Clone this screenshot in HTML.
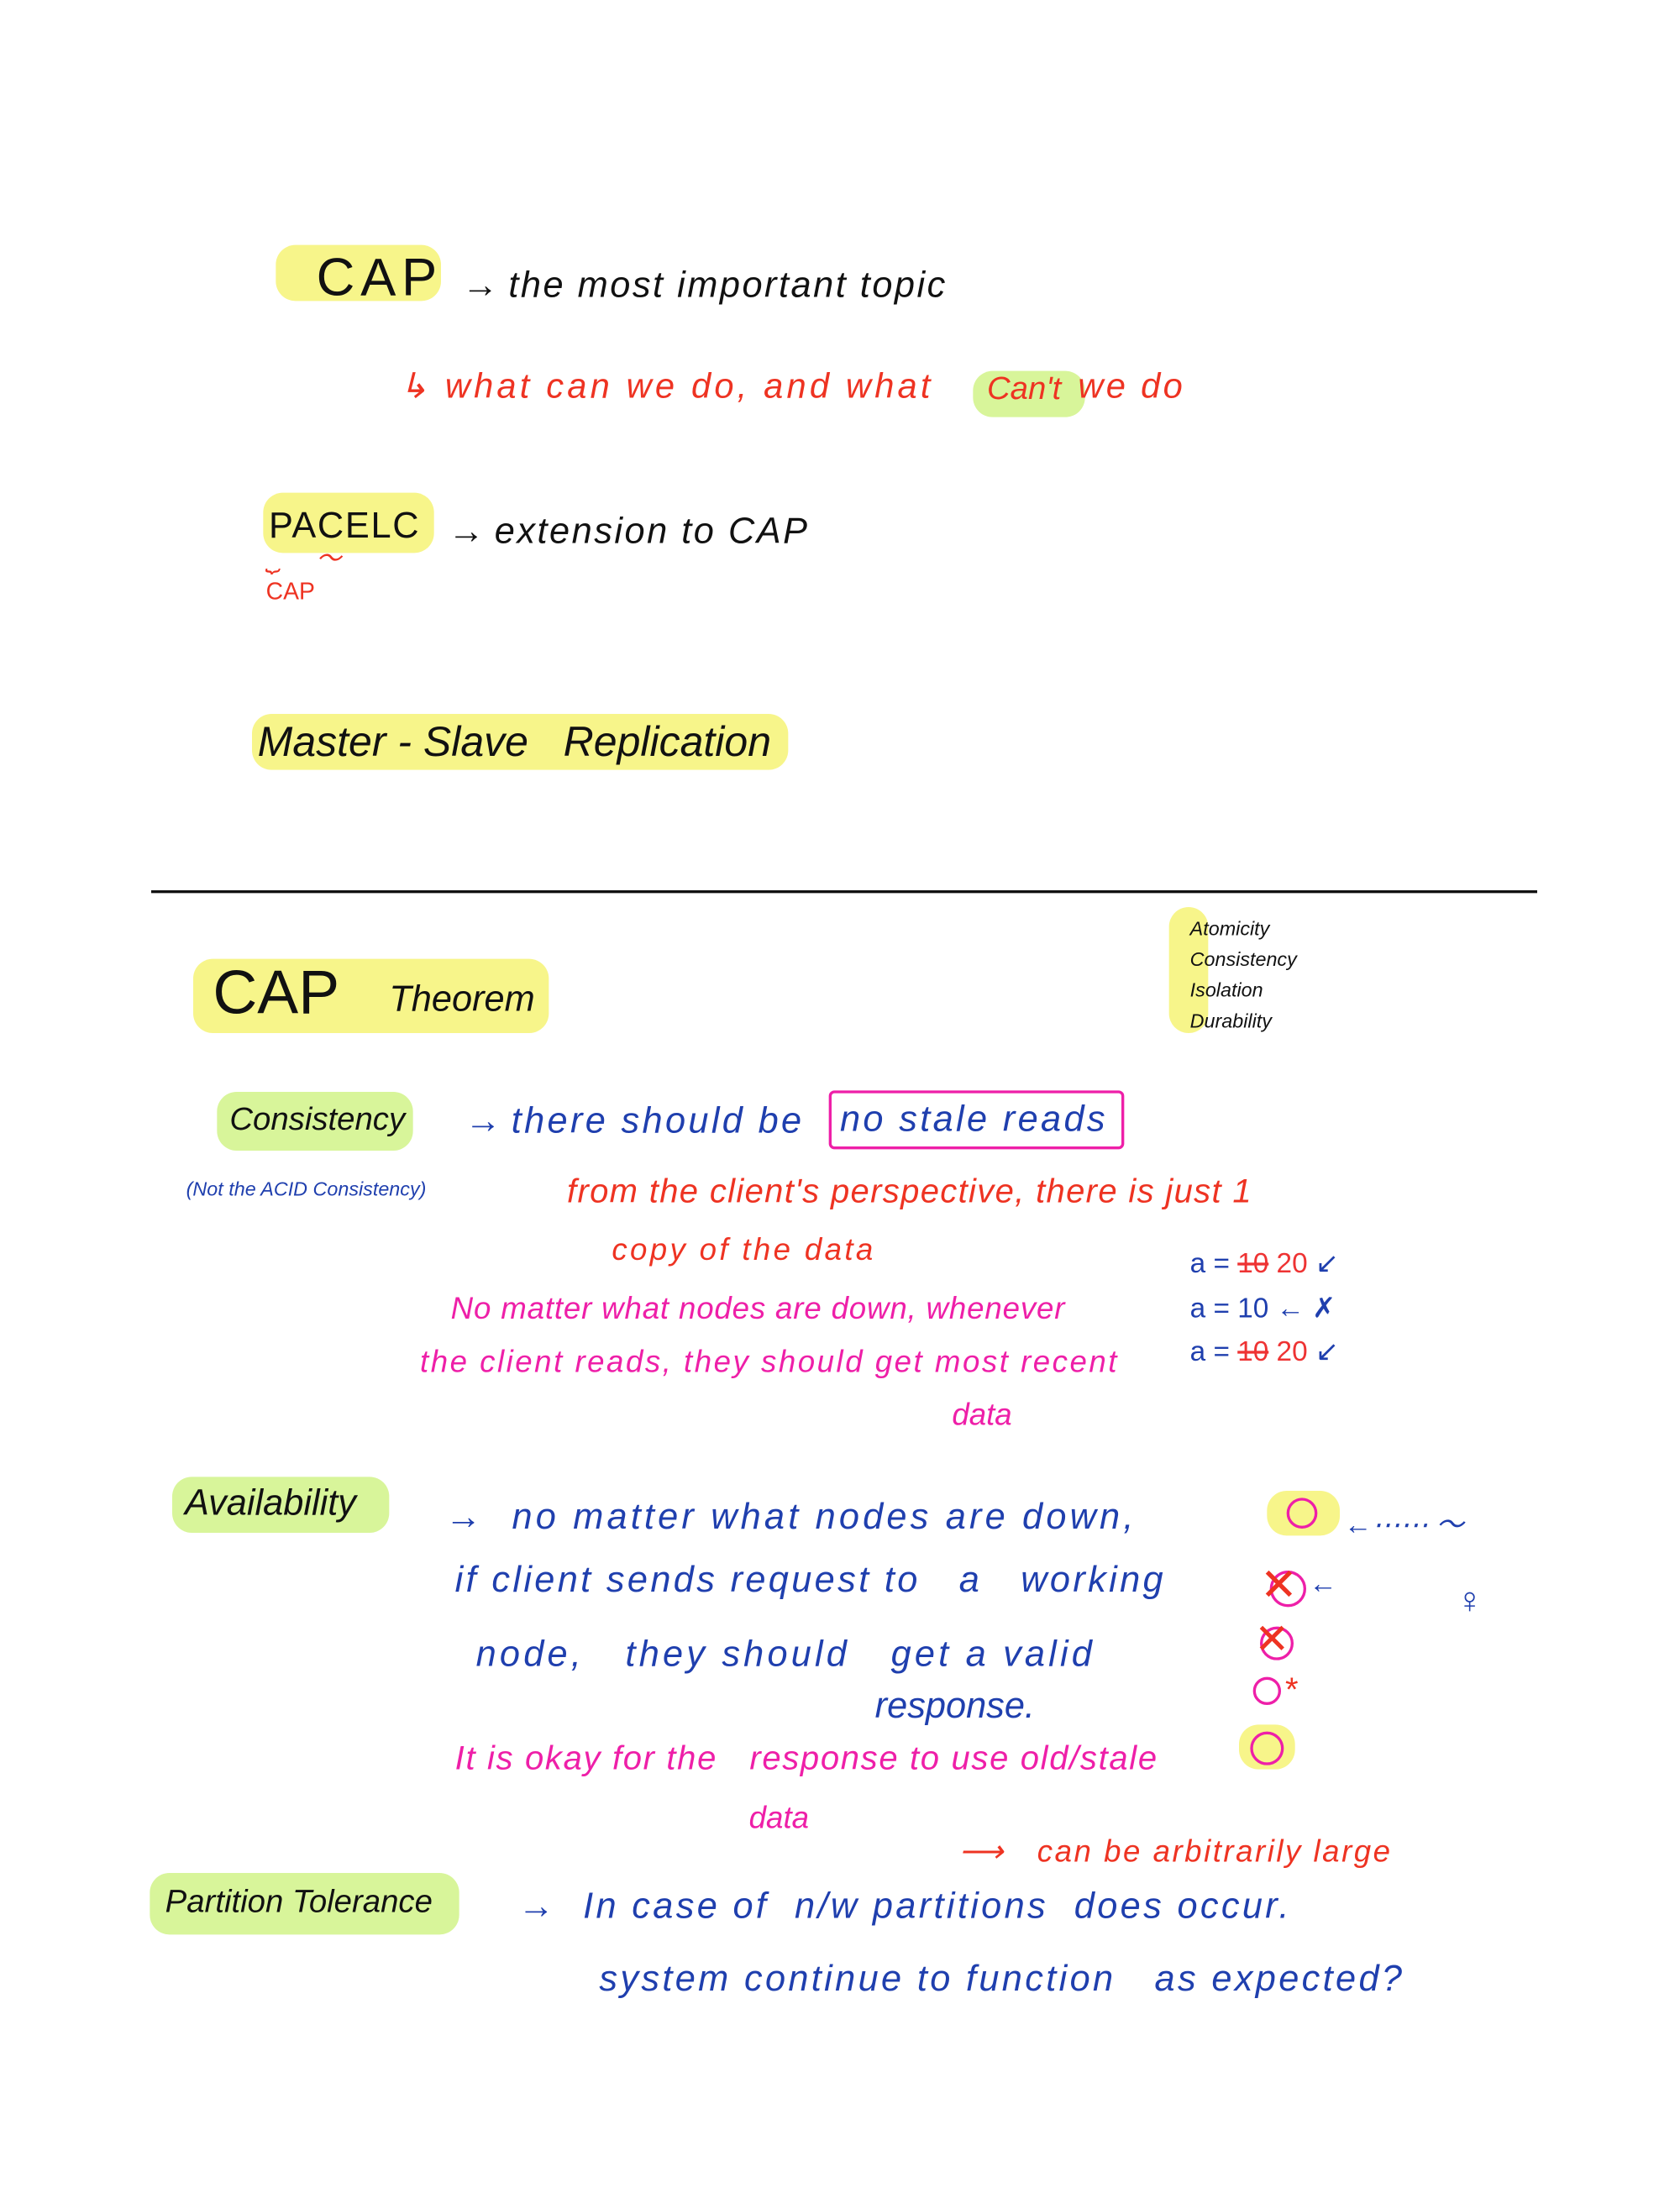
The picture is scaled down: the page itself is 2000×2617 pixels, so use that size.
<!DOCTYPE html>
<html><head><meta charset="utf-8">
<style>
html,body{margin:0;padding:0;background:#fff;}
body{width:2000px;height:2616px;overflow:hidden;position:relative;}
#w{position:absolute;left:0;top:0;width:1200px;height:1570px;transform:scale(1.66667);transform-origin:0 0;font-family:"Liberation Sans",sans-serif;font-style:italic;}
.t{position:absolute;white-space:nowrap;line-height:1;}
.hl{position:absolute;border-radius:14px;}
.y{background:#f7f58a;}
.g{background:#d8f59a;}
.k{color:#111;}
.r{color:#ee3322;}
.b{color:#1f3fae;}
.m{color:#ee1fa8;}
.c{position:absolute;border:2.5px solid #ee1fa8;border-radius:50%;}
</style></head><body><div id="w">

<div class="hl y" style="left:197px;top:175px;width:118px;height:40px"></div>
<div class="t k" style="left:226px;top:180px;font-size:38px;font-style:normal;letter-spacing:4px">CAP</div>
<div class="t k" style="left:330px;top:190px;font-size:26px">→ <span style="letter-spacing:1.5px">the most important topic</span></div>

<div class="hl g" style="left:695px;top:265px;width:80px;height:33px"></div>
<div class="t r" style="left:285px;top:264px;font-size:25px;letter-spacing:2.5px">↳ what can we do, and what</div>
<div class="t r" style="left:705px;top:266px;font-size:23px">Can't</div>
<div class="t r" style="left:770px;top:264px;font-size:25px;letter-spacing:2px">we do</div>

<div class="hl y" style="left:188px;top:352px;width:122px;height:43px"></div>
<div class="t k" style="left:192px;top:362px;font-size:26px;font-style:normal;letter-spacing:1px">PACELC</div>
<div class="t k" style="left:320px;top:366px;font-size:26px">→ <span style="letter-spacing:1.5px">extension to CAP</span></div>
<div class="t r" style="left:190px;top:390px;font-size:18px">⏟&nbsp;&nbsp;&nbsp;&nbsp;&nbsp;～</div>
<div class="t r" style="left:190px;top:414px;font-size:17px;font-style:normal">CAP</div>

<div class="hl y" style="left:180px;top:510px;width:383px;height:40px"></div>
<div class="t k" style="left:184px;top:516px;font-size:30px">Master - Slave&nbsp;&nbsp; Replication</div>

<div style="position:absolute;left:108px;top:636px;width:990px;height:2px;background:#111"></div>

<div class="hl y" style="left:138px;top:685px;width:254px;height:53px"></div>
<div class="t k" style="left:152px;top:688px;font-size:44px;font-style:normal">CAP</div>
<div class="t k" style="left:278px;top:700px;font-size:26px">Theorem</div>

<div class="hl y" style="left:835px;top:648px;width:28px;height:90px"></div>
<div class="t k" style="left:850px;top:652px;font-size:14px;line-height:22px">Atomicity<br>Consistency<br>Isolation<br>Durability</div>

<div class="hl g" style="left:155px;top:780px;width:140px;height:42px"></div>
<div class="t k" style="left:164px;top:788px;font-size:23px">Consistency</div>
<div class="t b" style="left:133px;top:842px;font-size:14px">(Not the ACID Consistency)</div>
<div class="t b" style="left:332px;top:787px;font-size:26px">→ <span style="letter-spacing:2px">there should be</span></div>
<div style="position:absolute;left:592px;top:779px;width:207px;height:38px;border:2px solid #ee1fa8;border-radius:4px"></div>
<div class="t b" style="left:600px;top:786px;font-size:26px;letter-spacing:2px">no stale reads</div>

<div class="t r" style="left:405px;top:840px;font-size:24px;letter-spacing:0.8px">from the client's perspective, there is just 1</div>
<div class="t r" style="left:437px;top:882px;font-size:22px;letter-spacing:2px">copy of the data</div>
<div class="t m" style="left:322px;top:924px;font-size:22px;letter-spacing:0.5px">No matter what nodes are down, whenever</div>
<div class="t m" style="left:300px;top:962px;font-size:22px;letter-spacing:1.5px">the client reads, they should get most recent</div>
<div class="t m" style="left:680px;top:1000px;font-size:22px">data</div>

<div class="t b" style="left:850px;top:893px;font-size:20px;font-style:normal">a = <s style="color:#e33">10</s> <span style="color:#e33">20</span> ↙</div>
<div class="t b" style="left:850px;top:925px;font-size:20px;font-style:normal">a = 10 ← ✗</div>
<div class="t b" style="left:850px;top:956px;font-size:20px;font-style:normal">a = <s style="color:#e33">10</s> <span style="color:#e33">20</span> ↙</div>

<div class="hl g" style="left:123px;top:1055px;width:155px;height:40px"></div>
<div class="t k" style="left:132px;top:1060px;font-size:26px">Availability</div>
<div class="t b" style="left:318px;top:1070px;font-size:26px">→&nbsp;&nbsp; <span style="letter-spacing:2.5px">no matter what nodes are down,</span></div>
<div class="t b" style="left:325px;top:1115px;font-size:26px;letter-spacing:2px">if client sends request to&nbsp;&nbsp; a&nbsp;&nbsp; working</div>
<div class="t b" style="left:340px;top:1168px;font-size:26px;letter-spacing:2.5px">node,&nbsp;&nbsp; they should&nbsp;&nbsp; get a valid</div>
<div class="t b" style="left:625px;top:1205px;font-size:26px">response.</div>
<div class="t m" style="left:325px;top:1245px;font-size:24px;letter-spacing:1px">It is okay for the&nbsp;&nbsp; response to use old/stale</div>
<div class="t m" style="left:535px;top:1288px;font-size:22px">data</div>

<div class="hl y" style="left:905px;top:1065px;width:52px;height:32px"></div>
<div class="c" style="left:919px;top:1070px;width:18px;height:18px"></div>
<div class="t b" style="left:960px;top:1080px;font-size:20px">←⋯⋯ ～</div>
<div class="t b" style="left:1040px;top:1130px;font-size:26px;font-style:normal">♀</div>
<div class="c" style="left:907px;top:1122px;width:22px;height:22px"></div>
<div class="t r" style="left:900px;top:1116px;font-size:32px;font-style:normal">✕</div>
<div class="t b" style="left:935px;top:1122px;font-size:20px">←</div>
<div class="c" style="left:900px;top:1162px;width:20px;height:20px"></div>
<div class="t r" style="left:896px;top:1157px;font-size:30px;font-style:normal">✕</div>
<div class="c" style="left:895px;top:1198px;width:16px;height:16px"></div>
<div class="t r" style="left:918px;top:1196px;font-size:24px;font-style:normal">*</div>
<div class="hl y" style="left:885px;top:1232px;width:40px;height:32px"></div>
<div class="c" style="left:893px;top:1237px;width:20px;height:20px"></div>

<div class="hl g" style="left:107px;top:1338px;width:221px;height:44px"></div>
<div class="t k" style="left:118px;top:1347px;font-size:23px">Partition Tolerance</div>
<div class="t b" style="left:370px;top:1348px;font-size:26px;letter-spacing:2px">→&nbsp; In case of&nbsp; n/w partitions&nbsp; does occur.</div>
<div class="t r" style="left:685px;top:1312px;font-size:22px;letter-spacing:1.5px">⟶&nbsp;&nbsp; can be arbitrarily large</div>
<div class="t b" style="left:428px;top:1400px;font-size:26px;letter-spacing:2px">system continue to function&nbsp;&nbsp; as expected?</div>

</div></body></html>
